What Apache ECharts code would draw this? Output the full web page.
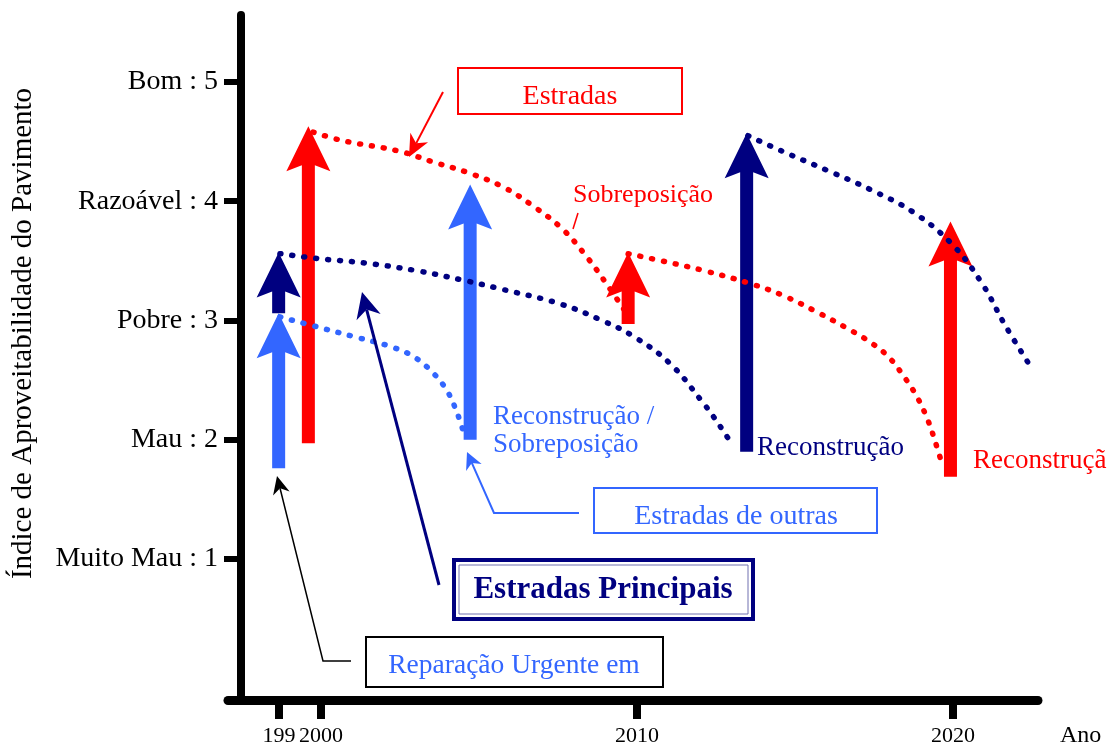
<!DOCTYPE html>
<html>
<head>
<meta charset="utf-8">
<title>Índice de Aproveitabilidade do Pavimento</title>
<script src="https://cdn.jsdelivr.net/npm/echarts@6/dist/echarts.min.js"></script>
<style>
  html, body { margin: 0; padding: 0; background: #fff; }
  #chart { width: 1107px; height: 748px; }
</style>
</head>
<body>
<div id="chart"></div>
<script>
// eixos
var yTickValues = [1, 2, 3, 4, 5]
var yTickLabels = ['Muito Mau : 1', 'Mau : 2', 'Pobre : 3', 'Razoável : 4', 'Bom : 5']
var xTickValues = [1998.67, 2000, 2010, 2020]
var xTickLabels = ['199', '2000', '2010', '2020']

// curvas de deterioração (pontilhadas)
var outrasYears = [1998.70, 1999.97, 2001.11, 2002.22, 2002.91, 2003.51, 2003.99, 2004.30, 2004.49]
var outrasValues = [3.03, 2.94, 2.86, 2.78, 2.70, 2.57, 2.41, 2.23, 2.08]

var principaisAYears = [1998.70, 1999.87, 2001.46, 2002.97, 2004.46, 2005.60, 2007.56, 2008.89, 2009.87, 2011.04, 2012.09, 2012.56, 2013.01]
var principaisAValues = [3.56, 3.52, 3.48, 3.42, 3.34, 3.27, 3.14, 3.00, 2.87, 2.64, 2.31, 2.14, 1.96]
var principaisBYears = [2013.51, 2014.59, 2016.01, 2017.37, 2018.73, 2019.97, 2020.92, 2021.65, 2022.44]
var principaisBValues = [4.55, 4.42, 4.26, 4.10, 3.91, 3.64, 3.31, 2.96, 2.62]

var estradasAYears = [1999.75, 2000.66, 2002.47, 2003.54, 2004.65, 2005.76, 2006.71, 2007.63, 2008.42, 2009.08, 2009.72]
var estradasAValues = [4.58, 4.51, 4.42, 4.33, 4.24, 4.12, 3.96, 3.77, 3.53, 3.29, 3.04]
var estradasBYears = [2009.72, 2010.95, 2012.09, 2013.58, 2014.62, 2015.70, 2016.68, 2017.37, 2017.94, 2018.42, 2018.86, 2019.21, 2019.43, 2019.65]
var estradasBValues = [3.56, 3.49, 3.42, 3.31, 3.21, 3.07, 2.93, 2.82, 2.70, 2.54, 2.36, 2.16, 1.99, 1.80]

// intervenções (setas): ano, índice antes, índice depois, grupo
var arrowYears = [1998.66, 1998.66, 1999.60, 2004.72, 2009.72, 2013.47, 2019.92]
var arrowFrom = [1.76, 3.06, 1.97, 2.00, 2.97, 1.90, 1.69]
var arrowTo = [3.06, 3.57, 4.63, 4.14, 3.57, 4.57, 3.83]
var arrowGroup = ['outras', 'principais', 'estradas', 'outras', 'estradas', 'principais', 'estradas']

var colors = { estradas: '#ff0000', principais: '#000080', outras: '#3366ff' }
var serif = '"Liberation Serif", serif'

function pairs (xs, ys) {
  return xs.map(function (x, i) { return [x, ys[i]] })
}

function arrowData (group) {
  var out = []
  for (var i = 0; i < arrowYears.length; i++) {
    if (arrowGroup[i] === group) out.push([arrowYears[i], arrowFrom[i], arrowTo[i]])
  }
  return out
}

function arrowSeries (group) {
  return {
    type: 'custom',
    name: group,
    z: 1,
    silent: true,
    data: arrowData(group),
    renderItem: function (params, api) {
      var base = api.coord([api.value(0), api.value(1)])
      var tip = api.coord([api.value(0), api.value(2)])
      var x = tip[0], t = tip[1]
      var hw = 22, hh = 45, sw = 6.5, notch = 39
      return {
        type: 'polygon',
        shape: {
          points: [[x, t], [x + hw, t + hh], [x + sw, t + notch], [x + sw, base[1]],
            [x - sw, base[1]], [x - sw, t + notch], [x - hw, t + hh]]
        },
        style: { fill: colors[group] }
      }
    }
  }
}

function dotted (name, group, xs, ys) {
  return {
    type: 'line',
    name: name,
    z: 3,
    silent: true,
    smooth: 0.4,
    showSymbol: false,
    data: pairs(xs, ys),
    lineStyle: { color: colors[group], width: 5.5, type: [1, 11], cap: 'round' }
  }
}

// cabeça de seta para as linhas de chamada
function head (from, to, len, w) {
  var dx = to[0] - from[0], dy = to[1] - from[1]
  var L = Math.sqrt(dx * dx + dy * dy)
  var ux = dx / L, uy = dy / L, nx = -uy, ny = ux
  var bx = to[0] - ux * len, by = to[1] - uy * len
  var mx = to[0] - ux * len * 0.7, my = to[1] - uy * len * 0.7
  return {
    points: [to, [bx + nx * w / 2, by + ny * w / 2], [mx, my], [bx - nx * w / 2, by - ny * w / 2]],
    notch: [mx, my]
  }
}

function leader (pts, color, lw, len, w) {
  var n = pts.length
  var h = head(pts[n - 2], pts[n - 1], len, w)
  var linePts = pts.slice(0, n - 1).concat([h.notch])
  return [
    { type: 'polyline', z: 100, shape: { points: linePts }, style: { stroke: color, lineWidth: lw, fill: null } },
    { type: 'polygon', z: 100, shape: { points: h.points }, style: { fill: color } }
  ]
}

function label (x, y, text, color, size, align) {
  return {
    type: 'text', z: 100, x: x, y: y,
    style: { text: text, fill: color, font: size + 'px ' + serif, align: align || 'left', verticalAlign: 'middle' }
  }
}

function box (x, y, w, h, color, lw) {
  return { type: 'rect', z: 100, shape: { x: x, y: y, width: w, height: h }, style: { fill: null, stroke: color, lineWidth: lw } }
}

var graphics = [
  box(458, 68, 224, 46, colors.estradas, 2),
  label(570, 97, 'Estradas', colors.estradas, 28, 'center'),
  label(573, 195, 'Sobreposição', colors.estradas, 26),
  { type: 'line', z: 100, shape: { x1: 578, y1: 213, x2: 573, y2: 229 }, style: { stroke: colors.estradas, lineWidth: 1.5 } },
  label(493, 417, 'Reconstrução /', colors.outras, 27),
  label(493, 445, 'Sobreposição', colors.outras, 27),
  label(757, 448, 'Reconstrução', colors.principais, 27),
  label(973, 461, 'Reconstrução', colors.estradas, 27),
  box(594, 488, 283, 45, colors.outras, 2),
  label(736, 517, 'Estradas de outras', colors.outras, 28, 'center'),
  box(454, 560, 299, 59, colors.principais, 4),
  box(459, 565, 289, 49, '#7070b0', 1),
  {
    type: 'text', z: 100, x: 603, y: 590,
    style: { text: 'Estradas Principais', fill: colors.principais, font: 'bold 31px "Liberation Serif", serif', align: 'center', verticalAlign: 'middle' }
  },
  box(366, 637, 297, 50, '#000', 2),
  label(514, 666, 'Reparação Urgente em', colors.outras, 27.5, 'center')
]
graphics = graphics
  .concat(leader([[443, 92], [409, 157]], colors.estradas, 2, 22, 20))
  .concat(leader([[579, 513], [494, 513], [467, 452]], colors.outras, 2, 17, 17))
  .concat(leader([[439, 585], [362, 292]], colors.principais, 3, 26, 25))
  .concat(leader([[351, 661], [323, 661], [277, 476]], '#000', 1.5, 18, 17))

var chart = echarts.init(document.getElementById('chart'))
chart.setOption({
  animation: false,
  backgroundColor: '#fff',
  grid: { left: 228, right: 69, top: 15, bottom: 45 },
  xAxis: {
    type: 'value',
    min: 1997.057,
    max: 2022.69,
    name: 'Ano',
    nameLocation: 'end',
    nameGap: 22,
    nameTextStyle: { fontFamily: serif, fontSize: 24, color: '#000', verticalAlign: 'top', padding: [24, 0, 0, 0] },
    splitLine: { show: false },
    axisLine: { onZero: false, lineStyle: { color: '#000', width: 9 } },
    axisTick: { customValues: xTickValues, length: 19, lineStyle: { color: '#000', width: 8 } },
    axisLabel: {
      customValues: xTickValues,
      margin: 25,
      fontFamily: serif,
      fontSize: 22,
      color: '#000',
      formatter: function (v) {
        var i = xTickValues.indexOf(v)
        return i >= 0 ? xTickLabels[i] : ''
      }
    }
  },
  yAxis: {
    type: 'value',
    min: -0.183,
    max: 5.562,
    offset: -13,
    name: 'Índice de Aproveitabilidade do Pavimento',
    nameLocation: 'middle',
    nameRotate: 90,
    nameGap: 203,
    nameMoveOverlap: false,
    nameTextStyle: { fontFamily: serif, fontSize: 29, color: '#000', padding: [0, 0, 0, 48] },
    splitLine: { show: false },
    axisLine: { onZero: false, lineStyle: { color: '#000', width: 8 } },
    axisTick: { customValues: yTickValues, length: 17, lineStyle: { color: '#000', width: 6 } },
    axisLabel: {
      customValues: yTickValues,
      margin: 23,
      fontFamily: serif,
      fontSize: 28,
      color: '#000',
      formatter: function (v) {
        var i = yTickValues.indexOf(v)
        return i >= 0 ? yTickLabels[i] : ''
      }
    }
  },
  series: [
    arrowSeries('outras'),
    arrowSeries('principais'),
    arrowSeries('estradas'),
    dotted('Estradas de outras', 'outras', outrasYears, outrasValues),
    dotted('Estradas Principais (1)', 'principais', principaisAYears, principaisAValues),
    dotted('Estradas Principais (2)', 'principais', principaisBYears, principaisBValues),
    dotted('Estradas (1)', 'estradas', estradasAYears, estradasAValues),
    dotted('Estradas (2)', 'estradas', estradasBYears, estradasBValues)
  ],
  graphic: graphics
})
</script>
</body>
</html>
